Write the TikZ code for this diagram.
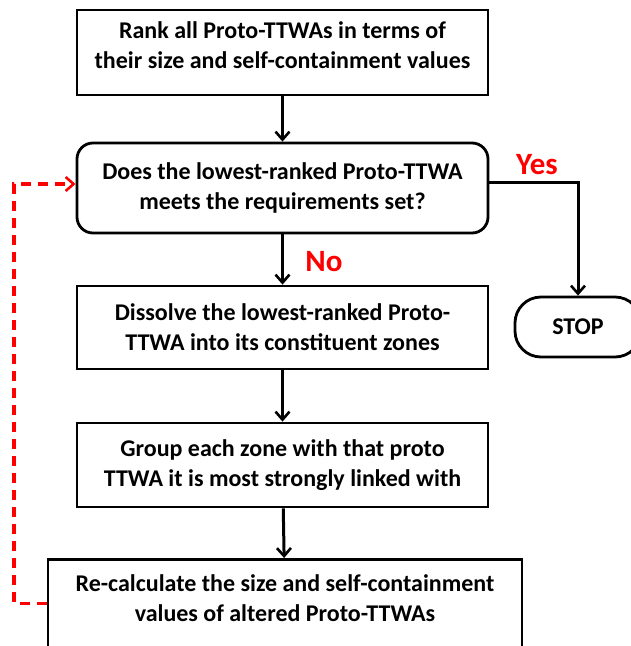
\documentclass[tikz,border=0pt]{standalone}
\usepackage{fontspec}
\setmainfont{Carlito}
\usetikzlibrary{arrows.meta}
\tikzset{
    box/.style={draw,line width=2.8pt,minimum width=411pt,align=center,font=\bfseries\fontsize{24}{30}\selectfont},
    arr/.style={line width=3pt,-{Straight Barb[length=8pt,width=14pt,line width=2.6pt]}},
    answer/.style={text=red,font=\bfseries\fontsize{31}{34}\selectfont},
}
\begin{document}
\begin{tikzpicture}[x=1pt,y=-1pt]
    \useasboundingbox (0,0) rectangle (631,646);
    \node[box,minimum height=85pt,text depth=14pt] (rank) at (282.5,52.5)
        {Rank all Proto-TTWAs in terms of\\their size and self-containment values};
    \node[box,minimum height=90pt,rounded corners=16pt] (check) at (282.5,188)
        {Does the lowest-ranked Proto-TTWA\\meets the requirements set?};
    \node[box,minimum height=83pt] (dissolve) at (282.5,327.5)
        {Dissolve the lowest-ranked Proto-\\TTWA into its constituent zones};
    \node[box,minimum height=84pt] (group) at (282.5,465)
        {Group each zone with that proto\\TTWA it is most strongly linked with};
    \node[box,minimum width=474pt,minimum height=96pt,anchor=north,
          label={[box,draw=none,yshift=9pt]center:{Re-calculate the size and self-containment\\values of altered Proto-TTWAs}}]
        (recalc) at (285,558) {}; % bottom edge runs off the page
    \node[box,minimum width=126pt,minimum height=60pt,rounded corners=26pt] (stop) at (578,327) {STOP};
    \draw[arr] (rank) -- (check);
    \draw[arr] (check) -- (dissolve) node[pos=.55,right=18pt,answer] {No};
    \draw[arr] (dissolve) -- (group);
    \draw[arr] (group) -- (recalc);
    \draw[arr] ([yshift=6pt]check.east) -| (stop.north);
    \node[answer] at (537,165) {Yes};
    % loop back to the test
    \draw[red,line width=3.2pt,dash pattern=on 10pt off 7pt,-{Straight Barb[length=8pt,width=14pt,line width=2.6pt]}]
        ([yshift=4pt]recalc.west) -| (14,184) -- ([yshift=4pt]check.west);
\end{tikzpicture}
\end{document}
